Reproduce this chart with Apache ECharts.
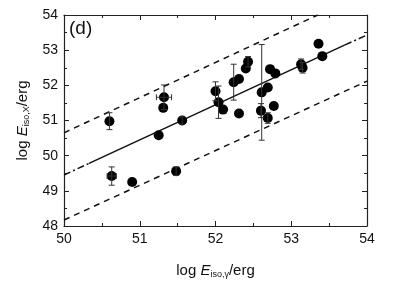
<!DOCTYPE html>
<html><head><meta charset="utf-8">
<script src="https://cdn.jsdelivr.net/npm/echarts@6/dist/echarts.min.js"></script>
<style>html,body{margin:0;padding:0;background:#fff}#c{width:411px;height:287px}</style>
</head><body><div id="c"></div>
<script>
// data: x = log E_iso,gamma, y = log E_iso,X
var xVals = [50.60,50.63,50.90,51.25,51.32,51.31,51.48,51.56,52.00,52.04,52.10,52.24,52.31,52.31,52.40,52.43,52.60,52.61,52.69,52.69,52.72,52.79,52.77,53.13,53.15,53.36,53.41];
var yVals = [50.98,49.42,49.25,50.58,51.66,51.36,49.56,51.00,51.83,51.52,51.31,52.09,52.18,51.20,52.48,52.67,51.28,51.80,51.94,51.07,52.46,52.34,51.41,52.60,52.50,53.18,52.83];
var yErr  = [0.24,0.26,0,0,0.35,0,0.12,0.10,0.27,0.46,0,0.51,0,0,0,0.15,0.20,1.36,0,0.15,0,0,0,0.15,0.15,0,0];
var xErr  = [0,0.06,0,0,0.10,0,0,0,0,0,0,0,0,0,0,0,0,0,0,0,0,0,0,0,0,0,0];
var fitLeft  = [[50,49.45],[50.33,49.78]];
var fitMid   = [[50.33,49.78],[53.71,53.15]];
var fitRight = [[53.71,53.15],[54,53.43]];
var upperBand = [[50,50.65],[53.35,54]];
var lowerBand = [[50,48.17],[54,52.12]];
var xTicks = [50,51,52,53,54];
var yTicks = [48,49,50,51,52,53,54];

var pts = xVals.map(function(x,i){return [x,yVals[i],yErr[i],xErr[i]];});
var axisCol = '#222';
function mkAxis(pos, show, isX){
  var t = isX ? xTicks : yTicks;
  return {
    type:'value', position:pos, min:t[0], max:t[t.length-1], interval:1,
    axisLine:{show:true,onZero:false,lineStyle:{color:axisCol,width:1.2}},
    axisTick:{show:true,inside:true,length:5,lineStyle:{color:axisCol,width:1}},
    minorTick:{show:true,splitNumber:2,length:3,lineStyle:{color:axisCol,width:1}},
    axisLabel:{show:show,color:'#111',fontSize:14,fontFamily:'Liberation Sans, Arial',margin:6},
    splitLine:{show:false}
  };
}
var xA = mkAxis('bottom',true,true);
xA.name='{a|log }{i|E}{s|iso,γ}{a|/erg}';
xA.nameLocation='middle'; xA.nameGap=36;
xA.nameTextStyle={rich:{
  a:{fontSize:15,fontFamily:'Liberation Sans, Arial',color:'#111'},
  i:{fontSize:15,fontStyle:'italic',fontFamily:'Liberation Sans, Arial',color:'#111'},
  s:{fontSize:9,fontFamily:'Liberation Sans, Arial',color:'#111',verticalAlign:'bottom',padding:[8,0,0,0]}
}};
var yA = mkAxis('left',true,false);
yA.name='{a|log }{i|E}{s|iso,X}{a|/erg}';
yA.nameLocation='middle'; yA.nameGap=33;
yA.nameTextStyle=xA.nameTextStyle;
var xT = mkAxis('top',false,true);
var yR = mkAxis('right',false,false);

var chart = echarts.init(document.getElementById('c'),null,{renderer:'canvas'});
function lineSeries(d,type){
  return {type:'line',data:d,showSymbol:false,symbol:'none',silent:true,animation:false,
    lineStyle:{color:'#111',width:1.5,type:type}};
}
chart.setOption({
  animation:false,
  grid:{left:64,right:44,top:15,bottom:61},
  xAxis:[xA,xT],
  yAxis:[yA,yR],
  graphic:[{type:'text',left:69,top:19,style:{text:'(d)',fontSize:19,fontFamily:'Liberation Sans, Arial',fill:'#111'}}],
  series:[
    lineSeries(upperBand,[6,5]),
    lineSeries(lowerBand,[6,5]),
    lineSeries(fitLeft,[7,3,2,3]),
    lineSeries(fitMid,'solid'),
    lineSeries(fitRight,[7,3,2,3]),
    {type:'scatter',data:pts.map(function(p){return [p[0],p[1]];}),symbol:'circle',symbolSize:10,
     itemStyle:{color:'#000',opacity:1},animation:false,z:3},
    {type:'custom',data:pts,animation:false,z:4,
     renderItem:function(params,api){
       var x=api.value(0),y=api.value(1),ey=api.value(2),ex=api.value(3);
       var ch=[];
       var st={stroke:'#333',lineWidth:1};
       if(ey>0){
         var a=api.coord([x,y+ey]),b=api.coord([x,y-ey]);
         ch.push({type:'line',shape:{x1:a[0],y1:a[1],x2:b[0],y2:b[1]},style:st});
         ch.push({type:'line',shape:{x1:a[0]-3,y1:a[1],x2:a[0]+3,y2:a[1]},style:st});
         ch.push({type:'line',shape:{x1:b[0]-3,y1:b[1],x2:b[0]+3,y2:b[1]},style:st});
       }
       if(ex>0){
         var l=api.coord([x-ex,y]),r=api.coord([x+ex,y]);
         ch.push({type:'line',shape:{x1:l[0],y1:l[1],x2:r[0],y2:r[1]},style:st});
         ch.push({type:'line',shape:{x1:l[0],y1:l[1]-3,x2:l[0],y2:l[1]+3},style:st});
         ch.push({type:'line',shape:{x1:r[0],y1:r[1]-3,x2:r[0],y2:r[1]+3},style:st});
       }
       return {type:'group',children:ch};
     }}
  ]
});
</script></body></html>
